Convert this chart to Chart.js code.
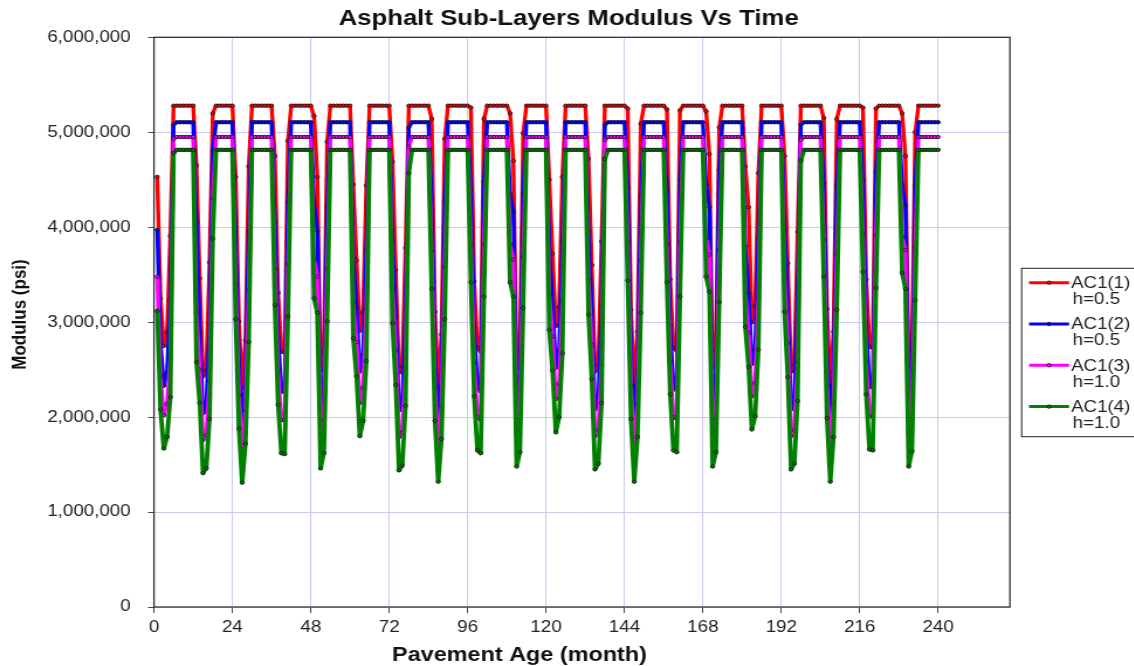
<!DOCTYPE html>
<html>
<head>
<meta charset="utf-8">
<title>Asphalt Sub-Layers Modulus Vs Time</title>
<script src="https://cdn.jsdelivr.net/npm/chart.js@4.4.1/dist/chart.umd.min.js"></script>
<style>
  html, body { margin: 0; padding: 0; background: #fff; overflow: hidden; }
  #wrap { width: 1134px; height: 666px; overflow: hidden; }
  /* the original picture is stretched sideways, so is this one */
  #chart { display: block; transform: scaleX(1.17); transform-origin: 0 0; }
</style>
</head>
<body>
<div id="wrap"><canvas id="chart" width="969" height="666"></canvas></div>
<script>
var chartTitle = "Asphalt Sub-Layers Modulus Vs Time";
var xTitle = "Pavement Age (month)";
var yTitle = "Modulus (psi)";

var seriesNames = ["AC1(1)", "AC1(2)", "AC1(3)", "AC1(4)"];
var seriesDepths = ["h=0.5", "h=0.5", "h=1.0", "h=1.0"];
var seriesColors = ["#ff0000", "#0000ff", "#ff00ff", "#008000"];

var xTicks = [0, 24, 48, 72, 96, 120, 144, 168, 192, 216, 240];
var yTicks = [0, 1000000, 2000000, 3000000, 4000000, 5000000, 6000000];
var xMax = 262;

// pavement age, one point per month
var months = [];
for (var m = 1; m <= 240; m++) months.push(m);

// modulus (psi), one row per year
var ac1_1 = [
  4530000, 3250000, 2750000, 2900000, 3910000, 5280000, 5280000, 5280000, 5280000, 5280000, 5280000, 5280000,
  4650000, 3460000, 2430000, 2490000, 3630000, 5200000, 5280000, 5280000, 5280000, 5280000, 5280000, 5280000,
  4530000, 3010000, 2310000, 2810000, 4640000, 5280000, 5280000, 5280000, 5280000, 5280000, 5280000, 5280000,
  4750000, 3310000, 2690000, 2680000, 4910000, 5280000, 5280000, 5280000, 5280000, 5280000, 5280000, 5280000,
  5170000, 4530000, 2490000, 2690000, 4900000, 5280000, 5280000, 5280000, 5280000, 5280000, 5280000, 5280000,
  4450000, 3650000, 2910000, 3110000, 4440000, 5280000, 5280000, 5280000, 5280000, 5280000, 5280000, 5280000,
  4690000, 3550000, 2470000, 2530000, 3780000, 5280000, 5280000, 5280000, 5280000, 5280000, 5280000, 5280000,
  5140000, 3110000, 2320000, 2870000, 4930000, 5280000, 5280000, 5280000, 5280000, 5280000, 5280000, 5280000,
  5260000, 3430000, 2730000, 2690000, 5140000, 5280000, 5280000, 5280000, 5280000, 5280000, 5280000, 5280000,
  5200000, 4700000, 2520000, 2700000, 4990000, 5280000, 5280000, 5280000, 5280000, 5280000, 5280000, 5280000,
  4500000, 3720000, 2960000, 3160000, 4530000, 5280000, 5280000, 5280000, 5280000, 5280000, 5280000, 5280000,
  4720000, 3600000, 2480000, 2550000, 3850000, 5280000, 5280000, 5280000, 5280000, 5280000, 5280000, 5280000,
  5250000, 3130000, 2320000, 2900000, 5090000, 5280000, 5280000, 5280000, 5280000, 5280000, 5280000, 5280000,
  5240000, 3450000, 2730000, 2700000, 5230000, 5280000, 5280000, 5280000, 5280000, 5280000, 5280000, 5280000,
  5220000, 4770000, 2520000, 2700000, 5050000, 5280000, 5280000, 5280000, 5280000, 5280000, 5280000, 5280000,
  4640000, 4210000, 3000000, 3170000, 4570000, 5280000, 5280000, 5280000, 5280000, 5280000, 5280000, 5280000,
  4750000, 3620000, 2480000, 2550000, 3950000, 5280000, 5280000, 5280000, 5280000, 5280000, 5280000, 5280000,
  5150000, 3140000, 2320000, 2900000, 5140000, 5280000, 5280000, 5280000, 5280000, 5280000, 5280000, 5280000,
  5260000, 3450000, 2740000, 2730000, 5250000, 5280000, 5280000, 5280000, 5280000, 5280000, 5280000, 5280000,
  5200000, 4750000, 2520000, 2710000, 5000000, 5280000, 5280000, 5280000, 5280000, 5280000, 5280000, 5280000
];

var ac1_2 = [
  3970000, 2790000, 2330000, 2470000, 3240000, 5080000, 5105000, 5105000, 5105000, 5105000, 5105000, 5105000,
  4060000, 2900000, 2040000, 2090000, 2980000, 4800000, 5105000, 5105000, 5105000, 5105000, 5105000, 5105000,
  3900000, 2570000, 1920000, 2390000, 3960000, 5105000, 5105000, 5105000, 5105000, 5105000, 5105000, 5105000,
  4050000, 2850000, 2270000, 2260000, 4260000, 5105000, 5105000, 5105000, 5105000, 5105000, 5105000, 5105000,
  4250000, 3960000, 2090000, 2270000, 4210000, 5105000, 5105000, 5105000, 5105000, 5105000, 5105000, 5105000,
  3680000, 3150000, 2480000, 2660000, 3760000, 5105000, 5105000, 5105000, 5105000, 5105000, 5105000, 5105000,
  3860000, 3060000, 2070000, 2130000, 3140000, 5050000, 5105000, 5105000, 5105000, 5105000, 5105000, 5105000,
  4300000, 2660000, 1930000, 2440000, 4280000, 5105000, 5105000, 5105000, 5105000, 5105000, 5105000, 5105000,
  4400000, 2950000, 2310000, 2270000, 4480000, 5105000, 5105000, 5105000, 5105000, 5105000, 5105000, 5105000,
  4350000, 4160000, 2120000, 2280000, 4350000, 5105000, 5105000, 5105000, 5105000, 5105000, 5105000, 5105000,
  3760000, 3210000, 2520000, 2700000, 3840000, 5105000, 5105000, 5105000, 5105000, 5105000, 5105000, 5105000,
  3950000, 3120000, 2080000, 2150000, 3170000, 5080000, 5105000, 5105000, 5105000, 5105000, 5105000, 5105000,
  4420000, 2680000, 1930000, 2470000, 4320000, 5105000, 5105000, 5105000, 5105000, 5105000, 5105000, 5105000,
  4400000, 2970000, 2310000, 2280000, 4500000, 5105000, 5105000, 5105000, 5105000, 5105000, 5105000, 5105000,
  4450000, 4210000, 2120000, 2280000, 4600000, 5105000, 5105000, 5105000, 5105000, 5105000, 5105000, 5105000,
  3800000, 3300000, 2560000, 2710000, 3880000, 5105000, 5105000, 5105000, 5105000, 5105000, 5105000, 5105000,
  3980000, 3140000, 2080000, 2150000, 3300000, 5080000, 5105000, 5105000, 5105000, 5105000, 5105000, 5105000,
  4460000, 2690000, 1930000, 2470000, 4440000, 5105000, 5105000, 5105000, 5105000, 5105000, 5105000, 5105000,
  4500000, 2970000, 2320000, 2310000, 4580000, 5105000, 5105000, 5105000, 5105000, 5105000, 5105000, 5105000,
  4450000, 4230000, 2120000, 2290000, 4440000, 5105000, 5105000, 5105000, 5105000, 5105000, 5105000, 5105000
];

var ac1_3 = [
  3480000, 2430000, 2020000, 2140000, 2610000, 4930000, 4950000, 4950000, 4950000, 4950000, 4950000, 4950000,
  3100000, 2500000, 1760000, 1810000, 2380000, 4300000, 4950000, 4950000, 4950000, 4950000, 4950000, 4950000,
  3400000, 2230000, 1660000, 2070000, 3340000, 4950000, 4950000, 4950000, 4950000, 4950000, 4950000, 4950000,
  3560000, 2480000, 1970000, 1960000, 3610000, 4950000, 4950000, 4950000, 4950000, 4950000, 4950000, 4950000,
  3660000, 3480000, 1810000, 1970000, 3560000, 4950000, 4950000, 4950000, 4950000, 4950000, 4950000, 4950000,
  3200000, 2790000, 2150000, 2310000, 3140000, 4950000, 4950000, 4950000, 4950000, 4950000, 4950000, 4950000,
  3360000, 2700000, 1790000, 1840000, 2520000, 4850000, 4950000, 4950000, 4950000, 4950000, 4950000, 4950000,
  3750000, 2310000, 1670000, 2120000, 3580000, 4950000, 4950000, 4950000, 4950000, 4950000, 4950000, 4950000,
  3820000, 2570000, 2000000, 1970000, 3820000, 4950000, 4950000, 4950000, 4950000, 4950000, 4950000, 4950000,
  3820000, 3660000, 1830000, 1980000, 3690000, 4950000, 4950000, 4950000, 4950000, 4950000, 4950000, 4950000,
  3290000, 2850000, 2190000, 2350000, 3220000, 4950000, 4950000, 4950000, 4950000, 4950000, 4950000, 4950000,
  3450000, 2760000, 1800000, 1860000, 2550000, 4920000, 4950000, 4950000, 4950000, 4950000, 4950000, 4950000,
  3840000, 2330000, 1670000, 2140000, 3650000, 4950000, 4950000, 4950000, 4950000, 4950000, 4950000, 4950000,
  3820000, 2590000, 2000000, 1980000, 3840000, 4950000, 4950000, 4950000, 4950000, 4950000, 4950000, 4950000,
  3880000, 3710000, 1830000, 1980000, 3760000, 4950000, 4950000, 4950000, 4950000, 4950000, 4950000, 4950000,
  3310000, 2890000, 2220000, 2360000, 3260000, 4950000, 4950000, 4950000, 4950000, 4950000, 4950000, 4950000,
  3480000, 2780000, 1800000, 1860000, 2580000, 4920000, 4950000, 4950000, 4950000, 4950000, 4950000, 4950000,
  3870000, 2340000, 1670000, 2140000, 3720000, 4950000, 4950000, 4950000, 4950000, 4950000, 4950000, 4950000,
  3920000, 2590000, 2010000, 2000000, 3920000, 4950000, 4950000, 4950000, 4950000, 4950000, 4950000, 4950000,
  3900000, 3760000, 1830000, 1990000, 3790000, 4950000, 4950000, 4950000, 4950000, 4950000, 4950000, 4950000
];

var ac1_4 = [
  3120000, 2080000, 1670000, 1790000, 2210000, 4780000, 4815000, 4815000, 4815000, 4815000, 4815000, 4815000,
  2580000, 2150000, 1410000, 1460000, 1980000, 3880000, 4815000, 4815000, 4815000, 4815000, 4815000, 4815000,
  3030000, 1880000, 1310000, 1720000, 2790000, 4815000, 4815000, 4815000, 4815000, 4815000, 4815000, 4815000,
  3180000, 2130000, 1620000, 1610000, 3060000, 4815000, 4815000, 4815000, 4815000, 4815000, 4815000, 4815000,
  3250000, 3100000, 1460000, 1620000, 3010000, 4815000, 4815000, 4815000, 4815000, 4815000, 4815000, 4815000,
  2830000, 2430000, 1800000, 1960000, 2590000, 4815000, 4815000, 4815000, 4815000, 4815000, 4815000, 4815000,
  2990000, 2340000, 1440000, 1490000, 2120000, 4570000, 4815000, 4815000, 4815000, 4815000, 4815000, 4815000,
  3350000, 1960000, 1320000, 1770000, 3030000, 4815000, 4815000, 4815000, 4815000, 4815000, 4815000, 4815000,
  3420000, 2220000, 1650000, 1620000, 3270000, 4815000, 4815000, 4815000, 4815000, 4815000, 4815000, 4815000,
  3420000, 3270000, 1480000, 1630000, 3150000, 4815000, 4815000, 4815000, 4815000, 4815000, 4815000, 4815000,
  2920000, 2490000, 1840000, 2000000, 2670000, 4815000, 4815000, 4815000, 4815000, 4815000, 4815000, 4815000,
  3080000, 2400000, 1450000, 1510000, 2150000, 4720000, 4815000, 4815000, 4815000, 4815000, 4815000, 4815000,
  3440000, 1980000, 1320000, 1790000, 3100000, 4815000, 4815000, 4815000, 4815000, 4815000, 4815000, 4815000,
  3420000, 2240000, 1650000, 1630000, 3270000, 4815000, 4815000, 4815000, 4815000, 4815000, 4815000, 4815000,
  3480000, 3320000, 1480000, 1630000, 3210000, 4815000, 4815000, 4815000, 4815000, 4815000, 4815000, 4815000,
  2950000, 2530000, 1870000, 2010000, 2710000, 4815000, 4815000, 4815000, 4815000, 4815000, 4815000, 4815000,
  3110000, 2420000, 1450000, 1510000, 2170000, 4700000, 4815000, 4815000, 4815000, 4815000, 4815000, 4815000,
  3480000, 1990000, 1320000, 1790000, 3130000, 4815000, 4815000, 4815000, 4815000, 4815000, 4815000, 4815000,
  3530000, 2240000, 1660000, 1650000, 3360000, 4815000, 4815000, 4815000, 4815000, 4815000, 4815000, 4815000,
  3520000, 3350000, 1480000, 1640000, 3230000, 4815000, 4815000, 4815000, 4815000, 4815000, 4815000, 4815000
];

var seriesValues = [ac1_1, ac1_2, ac1_3, ac1_4];

var fontFamily = '"Liberation Sans", Arial, sans-serif';
var gridColor = '#c9c9f4';
var textColor = '#222';

var datasets = seriesValues.map(function (values, i) {
  return {
    label: seriesNames[i],
    data: months.map(function (mo, k) { return { x: mo, y: values[k] }; }),
    borderColor: seriesColors[i],
    backgroundColor: seriesColors[i],
    borderWidth: i === 3 ? 3.8 : 3.4,
    borderJoinStyle: 'round',
    borderCapStyle: 'round',
    tension: 0,
    pointRadius: 1.7,
    pointBorderWidth: 0.9,
    pointBorderColor: '#1a1a1a',
    pointBackgroundColor: seriesColors[i],
    order: 4 - i   // last series sits on top, as in the original
  };
});

var frameAndText = {
  id: 'frameAndText',
  afterDraw: function (chart) {
    var ctx = chart.ctx;
    var a = chart.chartArea;
    ctx.save();

    // plot frame
    ctx.strokeStyle = '#333';
    ctx.lineWidth = 1.3;
    ctx.strokeRect(a.left, a.top, a.right - a.left, a.bottom - a.top);

    // titles
    ctx.fillStyle = '#111';
    ctx.textAlign = 'center';
    ctx.textBaseline = 'middle';
    ctx.font = 'bold 22px ' + fontFamily;
    ctx.fillText(chartTitle, 486, 18.5);
    ctx.font = 'bold 20px ' + fontFamily;
    ctx.fillText(xTitle, 444, 655);
    ctx.save();
    ctx.translate(17, 314.5);
    ctx.rotate(-Math.PI / 2);
    ctx.font = 'bold 17px ' + fontFamily;
    ctx.fillText(yTitle, 0, 0);
    ctx.restore();

    // legend box
    var bx = 873.2, by = 268.3, bw = 110, bh = 168.4;
    ctx.fillStyle = '#fff';
    ctx.fillRect(bx, by, bw, bh);
    ctx.strokeStyle = '#222';
    ctx.lineWidth = 1;
    ctx.strokeRect(bx, by, bw, bh);

    ctx.textAlign = 'left';
    ctx.font = '16px ' + fontFamily;
    for (var i = 0; i < seriesNames.length; i++) {
      var ly = 282.7 + i * 41.3;
      ctx.strokeStyle = seriesColors[i];
      ctx.lineWidth = 3;
      ctx.beginPath();
      ctx.moveTo(879.5, ly);
      ctx.lineTo(913.7, ly);
      ctx.stroke();
      ctx.beginPath();
      ctx.arc(896.6, ly, 1.7, 0, Math.PI * 2);
      ctx.fillStyle = seriesColors[i];
      ctx.fill();
      ctx.strokeStyle = '#1a1a1a';
      ctx.lineWidth = 0.9;
      ctx.stroke();
      ctx.fillStyle = textColor;
      ctx.fillText(seriesNames[i], 915.4, ly + 1);
      ctx.fillText(seriesDepths[i], 916.8, ly + 17);
    }
    ctx.restore();
  }
};

new Chart(document.getElementById('chart'), {
  type: 'line',
  data: { datasets: datasets },
  options: {
    responsive: false,
    animation: false,
    events: [],
    layout: { padding: { left: 0, top: 37.3, right: 105.8, bottom: 0 } },
    plugins: {
      legend: { display: false },
      title: { display: false },
      tooltip: { enabled: false }
    },
    scales: {
      x: {
        type: 'linear',
        min: 0,
        max: xMax,
        afterBuildTicks: function (scale) {
          scale.ticks = xTicks.map(function (v) { return { value: v }; });
        },
        afterFit: function (scale) { scale.height = 59; },
        grid: { color: gridColor, tickColor: '#444', tickLength: 6, lineWidth: 1 },
        border: { display: false },
        ticks: {
          color: textColor,
          font: { family: fontFamily, size: 16 },
          padding: 5,
          maxRotation: 0,
          autoSkip: false,
          callback: function (v) { return String(v); }
        }
      },
      y: {
        type: 'linear',
        min: 0,
        max: 6000000,
        afterBuildTicks: function (scale) {
          scale.ticks = yTicks.map(function (v) { return { value: v }; });
        },
        afterFit: function (scale) { scale.width = 131.6; },
        grid: { color: gridColor, tickColor: '#444', tickLength: 5, lineWidth: 1 },
        border: { display: false },
        ticks: {
          color: textColor,
          font: { family: fontFamily, size: 16 },
          padding: 15,
          callback: function (v) { return Number(v).toLocaleString('en-US'); }
        }
      }
    }
  },
  plugins: [frameAndText]
});
</script>
</body>
</html>
